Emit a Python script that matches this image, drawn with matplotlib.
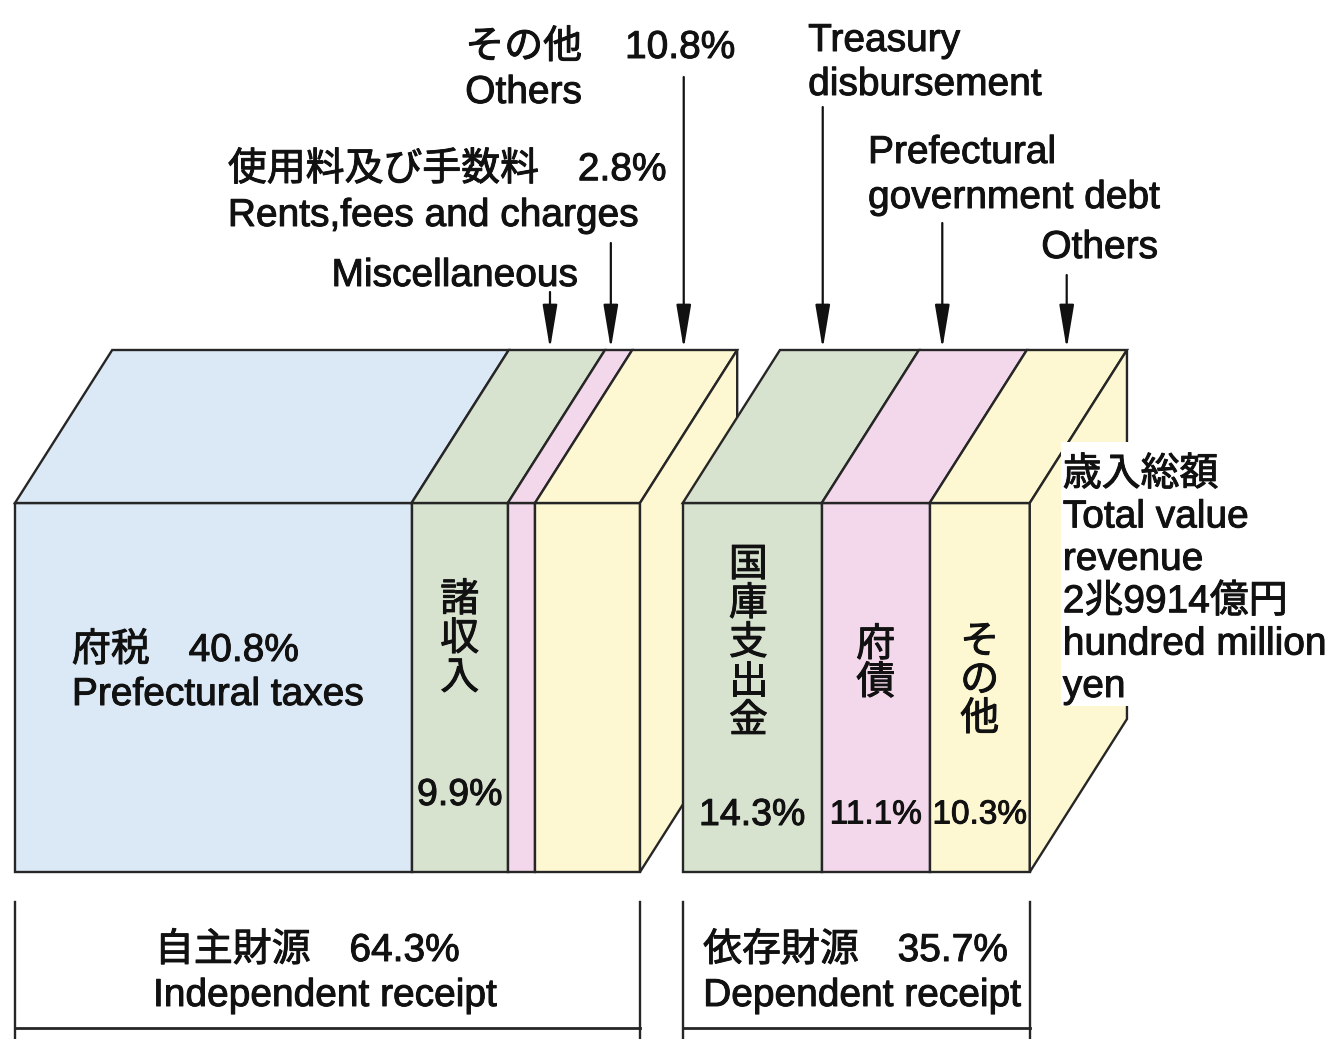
#Block chart of the prefectural revenue breakdown (independent vs dependent receipts).
import matplotlib.pyplot as plt
import matplotlib.patheffects as pe
from matplotlib.patches import Polygon, Rectangle

#Shares of total revenue, in percent.
indep_values = [40.8, 9.9, 2.8, 10.8]     #府税, 諸収入, 使用料及び手数料, その他
dep_values = [14.3, 11.1, 10.3]           #国庫支出金, 府債, その他
indep_total = 64.3
dep_total = 35.7

blue = "#dbe9f6"
green = "#d7e2cf"
pink = "#f2d8ea"
yellow = "#fdf8d2"
indep_colors = [blue, green, pink, yellow]
dep_colors = [green, pink, yellow]

#Box geometry: x in percent of revenue, y in pixel rows from the top.
GAP = 4.4
DEPTH_X = 10.0
DEPTH_Y = 153
TOP = 503
BOTTOM = 872
EDGE = "#262626"
LW = 1.7
FONT = ["Liberation Sans", "Noto Sans CJK JP"]
SIZE = 28
INK = "#111111"
HEAVY = [pe.withStroke(linewidth=0.7, foreground=INK)]


def text(ax, x, y, s, ha="left", size=SIZE, **kw):
    ax.text(x, y + 3, s, ha=ha, va="center", fontsize=size, family=FONT,
            color=INK, path_effects=HEAVY, **kw)


def vertical(ax, xc, y_first, s, step=39):
    for i, ch in enumerate(s):
        text(ax, xc, y_first + i * step, ch, ha="center")


def draw_block(ax, x0, values, colors):
    """Draw one box: front faces, top faces and the right side face."""
    left = x0
    centers = []
    for v, c in zip(values, colors):
        right = left + v
        ax.add_patch(Rectangle((left, TOP), v, BOTTOM - TOP, fc=c, ec=EDGE, lw=LW))
        ax.add_patch(Polygon([(left, TOP), (right, TOP),
                              (right + DEPTH_X, TOP - DEPTH_Y),
                              (left + DEPTH_X, TOP - DEPTH_Y)],
                             closed=True, fc=c, ec=EDGE, lw=LW))
        centers.append((left + right) / 2)
        left = right
    ax.add_patch(Polygon([(left, TOP), (left + DEPTH_X, TOP - DEPTH_Y),
                          (left + DEPTH_X, BOTTOM - DEPTH_Y), (left, BOTTOM)],
                         closed=True, fc=colors[-1], ec=EDGE, lw=LW))
    return centers


def bracket(ax, x0, width):
    ax.plot([x0, x0], [902, 1039], color=EDGE, lw=LW)
    ax.plot([x0 + width, x0 + width], [902, 1039], color=EDGE, lw=LW)
    ax.plot([x0, x0 + width], [1028, 1028], color=EDGE, lw=LW + 0.3)


def arrow(ax, x, y_start):
    ax.annotate("", xy=(x, TOP - DEPTH_Y - 1), xytext=(x, y_start),
                arrowprops=dict(arrowstyle="-|>,head_length=1.8,head_width=0.3",
                                mutation_scale=15, color=INK, lw=1.6,
                                shrinkA=0, shrinkB=0))


def main():
    fig = plt.figure(figsize=(13.31, 10.39), dpi=100)
    ax = fig.add_axes([0, 0, 1, 1])
    ax.set_xlim(-15 / 9.72, (1331 - 15) / 9.72)
    ax.set_ylim(1039, 0)
    ax.axis("off")

    dep_x0 = indep_total + GAP
    indep_centers = draw_block(ax, 0, indep_values, indep_colors)
    dep_centers = draw_block(ax, dep_x0, dep_values, dep_colors)

    #Labels on the front faces.
    text(ax, 5.86, 648, "府税　{:.1f}%".format(indep_values[0]))
    text(ax, 5.86, 692, "Prefectural taxes")
    vertical(ax, indep_centers[1], 598, "諸収入")
    text(ax, indep_centers[1], 792, "{:.1f}%".format(indep_values[1]), ha="center",
         size=27)

    vertical(ax, dep_centers[0] - 0.4, 563, "国庫支出金", step=39)
    vertical(ax, dep_centers[1], 643, "府債", step=38)
    vertical(ax, dep_centers[2], 640, "その他", step=38.5)
    for c, v, s in zip(dep_centers, dep_values, [27, 24, 24]):
        text(ax, c, 812, "{:.1f}%".format(v), ha="center", size=s)

    #Callouts above the boxes.
    text(ax, 58.33, 45, "その他", ha="right")
    text(ax, 62.76, 45, "{:.1f}%".format(indep_values[3]))
    text(ax, 58.33, 90, "Others", ha="right")
    text(ax, 21.9, 167, "使用料及び手数料　{:.1f}%".format(indep_values[2]))
    text(ax, 21.9, 213, "Rents,fees and charges")
    text(ax, 57.9, 273, "Miscellaneous", ha="right")
    text(ax, 81.6, 38, "Treasury")
    text(ax, 81.6, 82, "disbursement")
    text(ax, 87.76, 150, "Prefectural")
    text(ax, 87.76, 195, "government debt")
    text(ax, 117.6, 245, "Others", ha="right")

    for x, y0 in [(55.04, 292), (61.3, 243), (68.8, 77),
                  (83.1, 107), (95.4, 223), (108.2, 275)]:
        arrow(ax, x, y0)

    #Total revenue note beside the right box.
    ax.add_patch(Rectangle((107.6, 442), 30, 264, fc="white", ec="none", zorder=3))
    for i, line in enumerate(["歳入総額", "Total value", "revenue",
                              "2兆9914億円", "hundred million", "yen"]):
        text(ax, 107.8, 472 + i * 42.4, line, zorder=4)

    #Brackets for the two groups.
    bracket(ax, 0, indep_total)
    bracket(ax, dep_x0, dep_total)
    text(ax, 14.4, 948, "自主財源　{:.1f}%".format(indep_total))
    text(ax, 14.2, 993, "Independent receipt")
    text(ax, 70.8, 948, "依存財源　{:.1f}%".format(dep_total))
    text(ax, 70.8, 993, "Dependent receipt")

    fig.savefig("out.png", dpi=100, facecolor="white")


if __name__ == '__main__':
    main()
